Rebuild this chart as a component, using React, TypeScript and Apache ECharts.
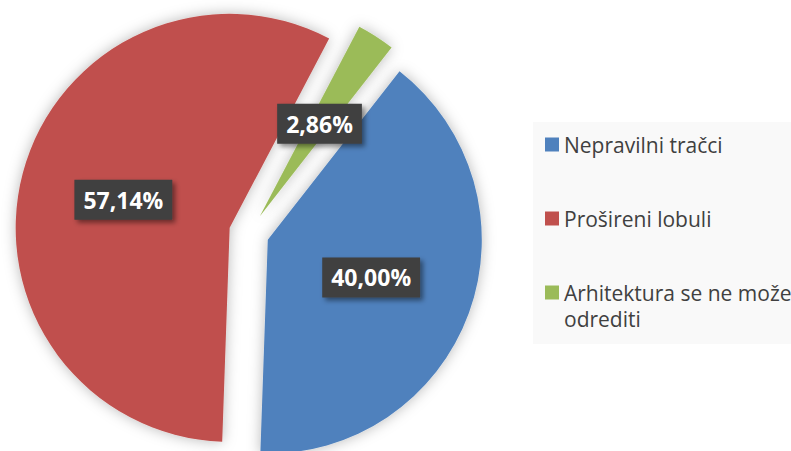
import React, { useEffect, useRef } from "react";
import * as echarts from "echarts";

const categories = ["Nepravilni tračci", "Prošireni lobuli", "Arhitektura se ne može odrediti"];
const values = [40.0, 57.14, 2.86];
const colors = ["#4F81BD", "#C0504D", "#9BBB59"];
const legendLines = [["Nepravilni tračci"], ["Prošireni lobuli"], ["Arhitektura se ne može", "odrediti"]];

const fmt = (v: number) => v.toFixed(2).replace(".", ",") + "%";

export default function App() {
  const ref = useRef<HTMLDivElement>(null);
  useEffect(() => {
    document.body.style.margin = "0";
    if (!ref.current) return;
    const chart = echarts.init(ref.current, null, { renderer: "svg" });
    const legendFont = "'Open Sans', sans-serif";
    chart.setOption({
      animation: false,
      backgroundColor: "#ffffff",
      graphic: [
        {
          type: "rect",
          z: -10,
          shape: { x: 533, y: 122, width: 260, height: 222 },
          style: { fill: "#f9f9f9" },
          silent: true,
        },
        {
          type: "text",
          left: 564,
          top: 308,
          style: {
            text: legendLines[2][1],
            fill: "#404040",
            font: `21px ${legendFont}`,
          },
        },
      ],
      legend: {
        orient: "vertical",
        left: 545,
        top: 130,
        padding: 0,
        itemGap: 45,
        itemWidth: 14,
        itemHeight: 14,
        icon: "rect",
        data: categories,
        formatter: (name: string) => legendLines[categories.indexOf(name)][0],
        textStyle: {
          fontFamily: legendFont,
          fontSize: 21,
          lineHeight: 29,
          color: "#404040",
        },
      },
      series: [
        {
          type: "pie",
          center: [249, 233],
          radius: 214,
          startAngle: 52,
          clockwise: true,
          selectedMode: "multiple",
          selectedOffset: 20,
          emphasis: { disabled: true },
          itemStyle: {
            borderWidth: 0,
            shadowBlur: 14,
            shadowColor: "rgba(0,0,0,0.28)",
          },
          label: {
            show: true,
            position: "inside",
            formatter: (p: any) => fmt(p.value),
            color: "#ffffff",
            fontFamily: legendFont,
            fontWeight: "bold",
            fontSize: 23,
            lineHeight: 26,
            backgroundColor: "#3f3f3f",
            padding: [7, 9, 7, 9],
            shadowColor: "rgba(0,0,0,0.45)",
            shadowBlur: 5,
            shadowOffsetX: 3,
            shadowOffsetY: 3,
          },
          labelLine: { show: false },
          data: categories.map((c, i) => ({
            name: c,
            value: values[i],
            selected: true,
            itemStyle: { color: colors[i] },
          })),
        },
      ],
    });
    return () => chart.dispose();
  }, []);
  return <div ref={ref} style={{ width: 791, height: 451 }} />;
}
